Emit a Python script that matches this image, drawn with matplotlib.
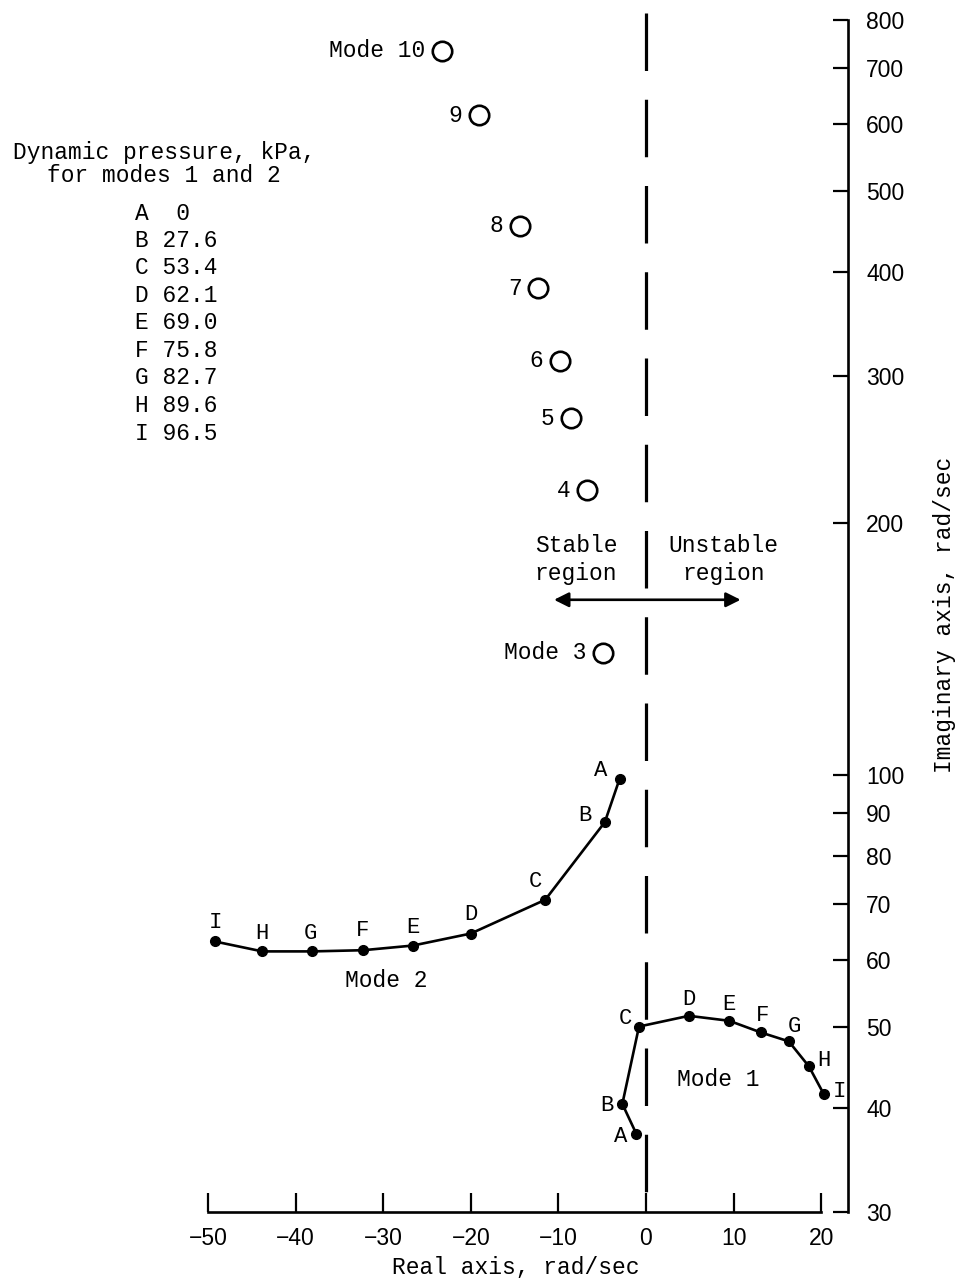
import matplotlib
matplotlib.use("Agg")
from matplotlib import pyplot as plt
from matplotlib.ticker import FixedLocator, FixedFormatter, NullLocator

# root locus data, real part and imaginary part in rad/sec
point_letters = ["A", "B", "C", "D", "E", "F", "G", "H", "I"]
pressures = ["0", "27.6", "53.4", "62.1", "69.0", "75.8", "82.7", "89.6", "96.5"]

mode1_real = [-1.1, -2.7, -0.8, 4.9, 9.5, 13.1, 16.3, 18.6, 20.3]
mode1_imag = [37.2, 40.4, 50.0, 51.5, 50.8, 49.2, 48.0, 44.8, 41.5]

mode2_real = [-3.0, -4.7, -11.5, -20.0, -26.6, -32.3, -38.1, -43.8, -49.2]
mode2_imag = [99.0, 87.8, 70.9, 64.6, 62.5, 61.7, 61.5, 61.5, 63.2]

mode_ids = [3, 4, 5, 6, 7, 8, 9, 10]
mode_real = [-4.9, -6.7, -8.6, -9.8, -12.3, -14.4, -19.1, -23.3]
mode_imag = [140, 219, 267, 313, 382, 454, 615, 735]

xticks = [-50, -40, -30, -20, -10, 0, 10, 20]
yticks = [30, 40, 50, 60, 70, 80, 90, 100, 200, 300, 400, 500, 600, 700, 800]

# label offsets (points) for the A..I markers
mode1_offsets = [(-11, -2), (-11, -1), (-10, 6), (0, 12), (0, 12), (1, 12), (4, 11), (11, 4), (11, 2)]
mode2_offsets = [(-14, 6), (-14, 5), (-7, 13), (0, 14), (0, 13), (0, 14), (-1, 13), (0, 13), (0, 14)]

mono = "Liberation Mono"
fs = 16.5
W, H = 959, 1284

fig = plt.figure(figsize=(W / 100, H / 100), dpi=100)
ax = fig.add_axes([208 / W, 1 - 1212 / H, 640 / W, (1212 - 20) / H])
ax.set_yscale("log")
ax.set_xlim(-50, 23.06)
ax.set_ylim(30, 800)

for s in ["top", "left"]:
    ax.spines[s].set_visible(False)
ax.spines["bottom"].set_bounds(-50, 20)
ax.spines["bottom"].set_linewidth(1.9)
ax.spines["right"].set_linewidth(1.9)

ax.xaxis.set_major_locator(FixedLocator(xticks))
ax.set_xticklabels([str(t).replace("-", "\u2212") for t in xticks])
ax.yaxis.tick_right()
ax.yaxis.set_major_locator(FixedLocator(yticks))
ax.yaxis.set_major_formatter(FixedFormatter([str(t) for t in yticks]))
ax.yaxis.set_minor_locator(NullLocator())
ax.tick_params(axis="x", direction="in", length=14, width=1.6, pad=11,
               labelsize=16.5, labelfontfamily="Liberation Sans")
ax.tick_params(axis="y", direction="in", length=11, width=1.6, pad=13,
               labelsize=16.5, labelfontfamily="Liberation Sans")

# stability boundary, dashes start from the top
ax.plot([0, 0], [815, 30], color="k", lw=2.3, dashes=(18, 9), clip_on=False)

# modes 1 and 2 against dynamic pressure
for xs, ys, offs in [(mode1_real, mode1_imag, mode1_offsets),
                     (mode2_real, mode2_imag, mode2_offsets)]:
    ax.plot(xs, ys, "-o", color="k", lw=1.9, ms=7, clip_on=False)
    for lab, x, y, o in zip(point_letters, xs, ys, offs):
        ax.annotate(lab, (x, y), xytext=o, textcoords="offset points",
                    ha="center", va="center", family=mono, fontsize=fs - 0.5)

ax.text(-29.7, 56.8, "Mode 2", ha="center", va="center", family=mono, fontsize=fs)
ax.text(8.3, 43.2, "Mode 1", ha="center", va="center", family=mono, fontsize=fs)

# higher modes, fixed
ax.plot(mode_real, mode_imag, "o", mfc="white", mec="k", mew=1.9, ms=14, ls="none")
for m, x, y in zip(mode_ids, mode_real, mode_imag):
    lab = f"Mode {m}" if m in (3, 10) else str(m)
    ax.annotate(lab, (x, y), xytext=(-12, 0), textcoords="offset points",
                ha="right", va="center", family=mono, fontsize=fs)

# stable / unstable arrow
ax.annotate("", xy=(-10.5, 162), xytext=(10.8, 162),
            arrowprops=dict(arrowstyle="<|-|>", color="k", lw=1.9, mutation_scale=22,
                            shrinkA=0, shrinkB=0))
ax.text(-8.0, 181, "Stable\nregion", ha="center", va="center", family=mono,
        fontsize=fs, linespacing=1.3)
ax.text(8.8, 181, "Unstable\nregion", ha="center", va="center", family=mono,
        fontsize=fs, linespacing=1.3)

# dynamic pressure key
fig.text(164 / W, 1 - 152 / H, "Dynamic pressure, kPa,", ha="center", va="center",
         family=mono, fontsize=fs)
fig.text(164 / W, 1 - 176 / H, "for modes 1 and 2", ha="center", va="center",
         family=mono, fontsize=fs)
for i, (lab, p) in enumerate(zip(point_letters, pressures)):
    txt = f"{lab} {p:>4}" if "." in p else f"{lab}  {p}"
    fig.text(135 / W, 1 - (213 + 27.5 * i) / H, txt, ha="left", va="center",
             family=mono, fontsize=fs)

fig.text(516 / W, 1 - 1268 / H, "Real axis, rad/sec", ha="center", va="center",
         family=mono, fontsize=fs)
fig.text(945 / W, 1 - 615 / H, "Imaginary axis, rad/sec", ha="center", va="center",
         rotation=90, family=mono, fontsize=fs)

fig.savefig("out.png", dpi=100)
